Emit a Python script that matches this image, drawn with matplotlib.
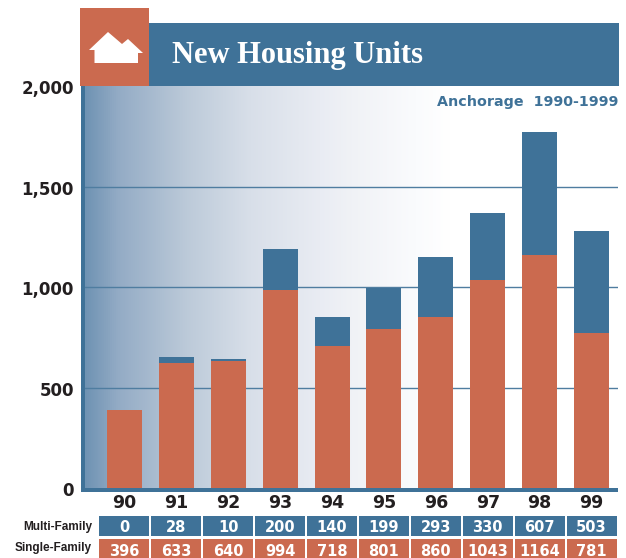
import numpy as np
import matplotlib
matplotlib.use("Agg")
import matplotlib.pyplot as plt
from matplotlib.patches import Rectangle, Polygon
from matplotlib.colors import LinearSegmentedColormap
from matplotlib.transforms import Affine2D, blended_transform_factory

years = ["90", "91", "92", "93", "94", "95", "96", "97", "98", "99"]
# values printed in the table under the chart
multi_family = [0, 28, 10, 200, 140, 199, 293, 330, 607, 503]
single_family = [396, 633, 640, 994, 718, 801, 860, 1043, 1164, 781]
# bar heights
bar_single = [388, 622, 632, 985, 706, 791, 851, 1035, 1159, 771]
bar_multi = [0, 30, 10, 204, 145, 204, 298, 333, 612, 508]
y_ticks = [0, 500, 1000, 1500, 2000]
y_tick_labels = ["0", "500", "1,000", "1,500", "2,000"]

BLUE = "#3f7298"
ORANGE = "#cb6a4f"
INK = "#231f20"
W, H = 626, 558

fig = plt.figure(figsize=(W / 100, H / 100), dpi=100, facecolor="white")
px = Affine2D().scale(1 / W, -1 / H).translate(0, 1) + fig.transFigure

L, R, T, B = 85, 618, 86, 488
ax = fig.add_axes([L / W, 1 - B / H, (R - L) / W, (B - T) / H])
x0, pitch = 124.5, 51.9
ax.set_xlim((L - x0) / pitch, (R - x0) / pitch)
ax.set_ylim(0, 2000)

cmap = LinearSegmentedColormap.from_list(
    "bg", [(0, "#6f93b3"), (0.06, "#93abc5"), (0.19, "#bccad9"), (0.31, "#d8dfe9"),
           (0.44, "#e9ecf3"), (0.5, "#f0f2f6"), (0.62, "#fafbfd"), (0.685, "#ffffff"),
           (1, "#ffffff")])
ax.imshow(np.linspace(0, 1, 512)[None, :], extent=[*ax.get_xlim(), 0, 2000],
          aspect="auto", cmap=cmap, zorder=0, interpolation="bilinear")

xs = np.arange(len(years))
ax.yaxis.grid(True, color="#4f7da0", lw=1.0, zorder=1)
ax.set_axisbelow(True)
ax.bar(xs, bar_single, width=35 / pitch, color=ORANGE, zorder=2)
ax.bar(xs, bar_multi, bottom=bar_single, width=35 / pitch, color=BLUE, zorder=2)

ax.set_yticks(y_ticks, y_tick_labels, fontsize=12, fontweight="bold", color=INK,
              family="DejaVu Sans")
ax.set_xticks(xs, years, fontsize=12.5, fontweight="bold", color=INK, family="DejaVu Sans")
ax.tick_params(axis="both", length=0)
ax.tick_params(axis="y", pad=8)
ax.tick_params(axis="x", pad=4.5)
for lab in ax.get_yticklabels():
    lab.set_transform(lab.get_transform() + Affine2D().translate(0, -1))
for s in ax.spines.values():
    s.set_visible(False)
# drop the gridlines at the ends of the y range
ax.yaxis.get_gridlines()[0].set_visible(False)
ax.yaxis.get_gridlines()[-1].set_visible(False)

def rect(x, y, w, h, c, z=5):
    fig.add_artist(Rectangle((x, y), w, h, transform=px, facecolor=c, edgecolor="none", zorder=z))

rect(81, 86, 4, 406, BLUE)
rect(81, 488, 537, 4, BLUE)
rect(149, 23, 470, 63, BLUE)
rect(80, 8, 69, 78, ORANGE, 6)
fig.add_artist(Polygon([(89, 50), (108, 32), (122, 44), (128, 39), (143, 53), (138, 53),
                        (138, 63), (94.5, 63), (94.5, 50)],
                       closed=True, transform=px, facecolor="white", edgecolor="none", zorder=7))

fig.text(172, 63, "New Housing Units", transform=px, color="white", fontsize=22,
         fontweight="bold", family="Liberation Serif", va="baseline", ha="left", zorder=8)
fig.text(618, 102, "Anchorage  1990-1999", transform=px, color=BLUE, fontsize=10.3,
         fontweight="bold", family="DejaVu Sans", va="center", ha="right", zorder=8)

row_tf = blended_transform_factory(ax.transData, px)
for i in xs:
    for top, h, c, vals, ty in ((516, 20, BLUE, multi_family, 527.5),
                                (539, 19, ORANGE, single_family, 551.5)):
        fig.add_artist(Rectangle((i - 25 / pitch, top), 50 / pitch, h, transform=row_tf,
                                 facecolor=c, edgecolor="none", zorder=5))
        fig.text(i, ty, str(vals[i]), transform=row_tf, color="white", fontsize=10.5,
                 fontweight="bold", family="DejaVu Sans", ha="center", va="center", zorder=8)

fig.text(92, 527, "Multi-Family", transform=px, color=INK, fontsize=8.5, fontweight="bold",
         family="Liberation Sans", ha="right", va="center")
fig.text(92, 548, "Single-Family", transform=px, color=INK, fontsize=8.5, fontweight="bold",
         family="Liberation Sans", ha="right", va="center")

fig.savefig("out.png", dpi=100, facecolor="white")
